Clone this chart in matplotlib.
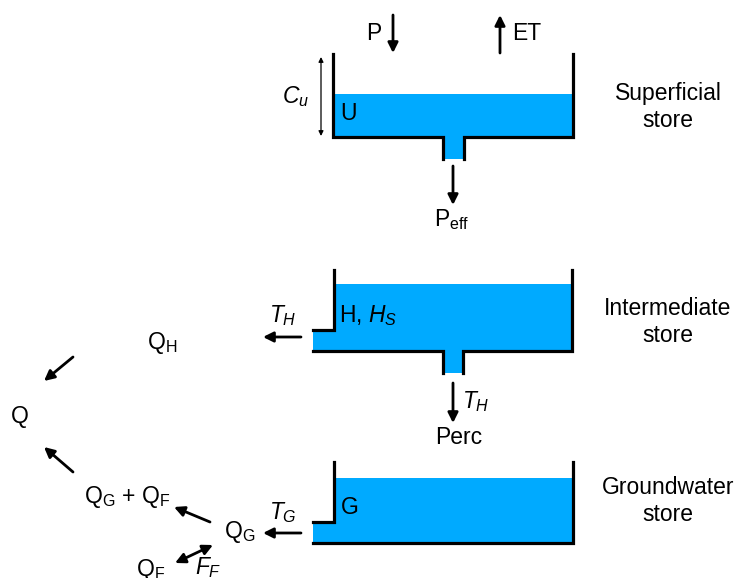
import matplotlib
matplotlib.use("Agg")
import matplotlib.pyplot as plt
from matplotlib.patches import Polygon

plt.rcParams['font.family'] = ['Liberation Sans', 'DejaVu Sans']
plt.rcParams['mathtext.fontset'] = 'custom'
plt.rcParams['mathtext.rm'] = 'Liberation Sans'
plt.rcParams['mathtext.it'] = 'Liberation Sans:italic'
plt.rcParams['mathtext.bf'] = 'Liberation Sans:bold'

WATER = '#00AAFF'
W, H = 739, 578
FS = 16.5

# ---- store geometry (pixel coordinates, y downward) ----
sup_outline = [[(333, 54), (333, 137), (443, 137), (443, 159)],
               [(464, 159), (464, 137), (573, 137), (573, 54)]]
sup_water = [(333, 94), (573, 94), (573, 137), (464, 137), (464, 159),
             (443, 159), (443, 137), (333, 137)]

int_outline = [[(334, 270), (334, 330), (313, 330)],
               [(313, 351), (443, 351), (443, 373)],
               [(463, 373), (463, 351), (572, 351), (572, 270)]]
int_water = [(313, 330), (334, 330), (334, 284), (572, 284), (572, 351),
             (463, 351), (463, 373), (443, 373), (443, 351), (313, 351)]

gw_outline = [[(334, 462), (334, 522), (313, 522)],
              [(313, 543), (573, 543), (573, 462)]]
gw_water = [(313, 522), (334, 522), (334, 478), (573, 478), (573, 543),
            (313, 543)]

# ---- arrows: (start, end) ----
arrows = [((393, 15), (393, 53)),     # P
          ((500, 53), (500, 15)),     # ET
          ((453, 166), (453, 205)),   # Peff
          ((301, 337), (263, 337)),   # T_H lateral
          ((453, 383), (453, 423)),   # Perc
          ((301, 533), (263, 533)),   # T_G
          ((73, 357), (44, 381)),     # Q_H -> Q
          ((73, 472), (44, 447)),     # Qg+Qf -> Q
          ((210, 522), (174, 507))]   # Q_G -> Qg+Qf
double_arrows = [((213, 545), (175, 563))]  # F_F
thin_double = [((321, 57), (321, 136))]     # C_u

# ---- labels: (x, y, text, ha) ----
labels = [(374, 34, 'P', 'center'),
          (512, 34, 'ET', 'left'),
          (296, 97, r'$C_u$', 'center'),
          (340, 113, 'U', 'left'),
          (452, 220, r'$\mathrm{P}_{\mathrm{eff}}$', 'center'),
          (339, 316, r'H, $H_S$', 'left'),
          (283, 316, r'$T_H$', 'center'),
          (462, 402, r'$T_H$', 'left'),
          (459, 438, 'Perc', 'center'),
          (341, 507, 'G', 'left'),
          (283, 513, r'$T_G$', 'center'),
          (240, 532, r'$\mathrm{Q}_\mathrm{G}$', 'center'),
          (127, 497, r'$\mathrm{Q}_\mathrm{G}$ + $\mathrm{Q}_\mathrm{F}$', 'center'),
          (20, 417, 'Q', 'center'),
          (162, 343, r'$\mathrm{Q}_\mathrm{H}$', 'center'),
          (151, 570, r'$\mathrm{Q}_\mathrm{F}$', 'center'),
          (208, 568, r'$F_F$', 'center')]

store_names = [(668, 107, 'Superficial\nstore'),
               (668, 322, 'Intermediate\nstore'),
               (668, 501, 'Groundwater\nstore')]

fig = plt.figure(figsize=(W / 100, H / 100), dpi=100)
ax = fig.add_axes([0, 0, 1, 1])
ax.set_xlim(0, W)
ax.set_ylim(H, 0)
ax.axis('off')

for poly in (sup_water, int_water, gw_water):
    ax.add_patch(Polygon(poly, closed=True, facecolor=WATER, edgecolor='none', zorder=1))

for group in (sup_outline, int_outline, gw_outline):
    for seg in group:
        xs = [p[0] for p in seg]
        ys = [p[1] for p in seg]
        ax.plot(xs, ys, color='black', lw=2.3, solid_capstyle='projecting',
                solid_joinstyle='miter', zorder=2)

for s, e in arrows:
    ax.annotate('', xy=e, xytext=s,
                arrowprops=dict(arrowstyle='-|>', color='black', lw=2.0,
                                mutation_scale=15, shrinkA=0, shrinkB=0))
for s, e in double_arrows:
    ax.annotate('', xy=e, xytext=s,
                arrowprops=dict(arrowstyle='<|-|>', color='black', lw=2.0,
                                mutation_scale=15, shrinkA=0, shrinkB=0))
for s, e in thin_double:
    ax.annotate('', xy=e, xytext=s,
                arrowprops=dict(arrowstyle='<|-|>', color='black', lw=0.9,
                                mutation_scale=7, shrinkA=0, shrinkB=0))

for x, y, t, ha in labels:
    ax.text(x, y, t, ha=ha, va='center', fontsize=FS, color='black')

for x, y, t in store_names:
    ax.text(x, y, t, ha='center', va='center', fontsize=FS, color='black',
            linespacing=1.2)

fig.savefig('out.png', dpi=100)
